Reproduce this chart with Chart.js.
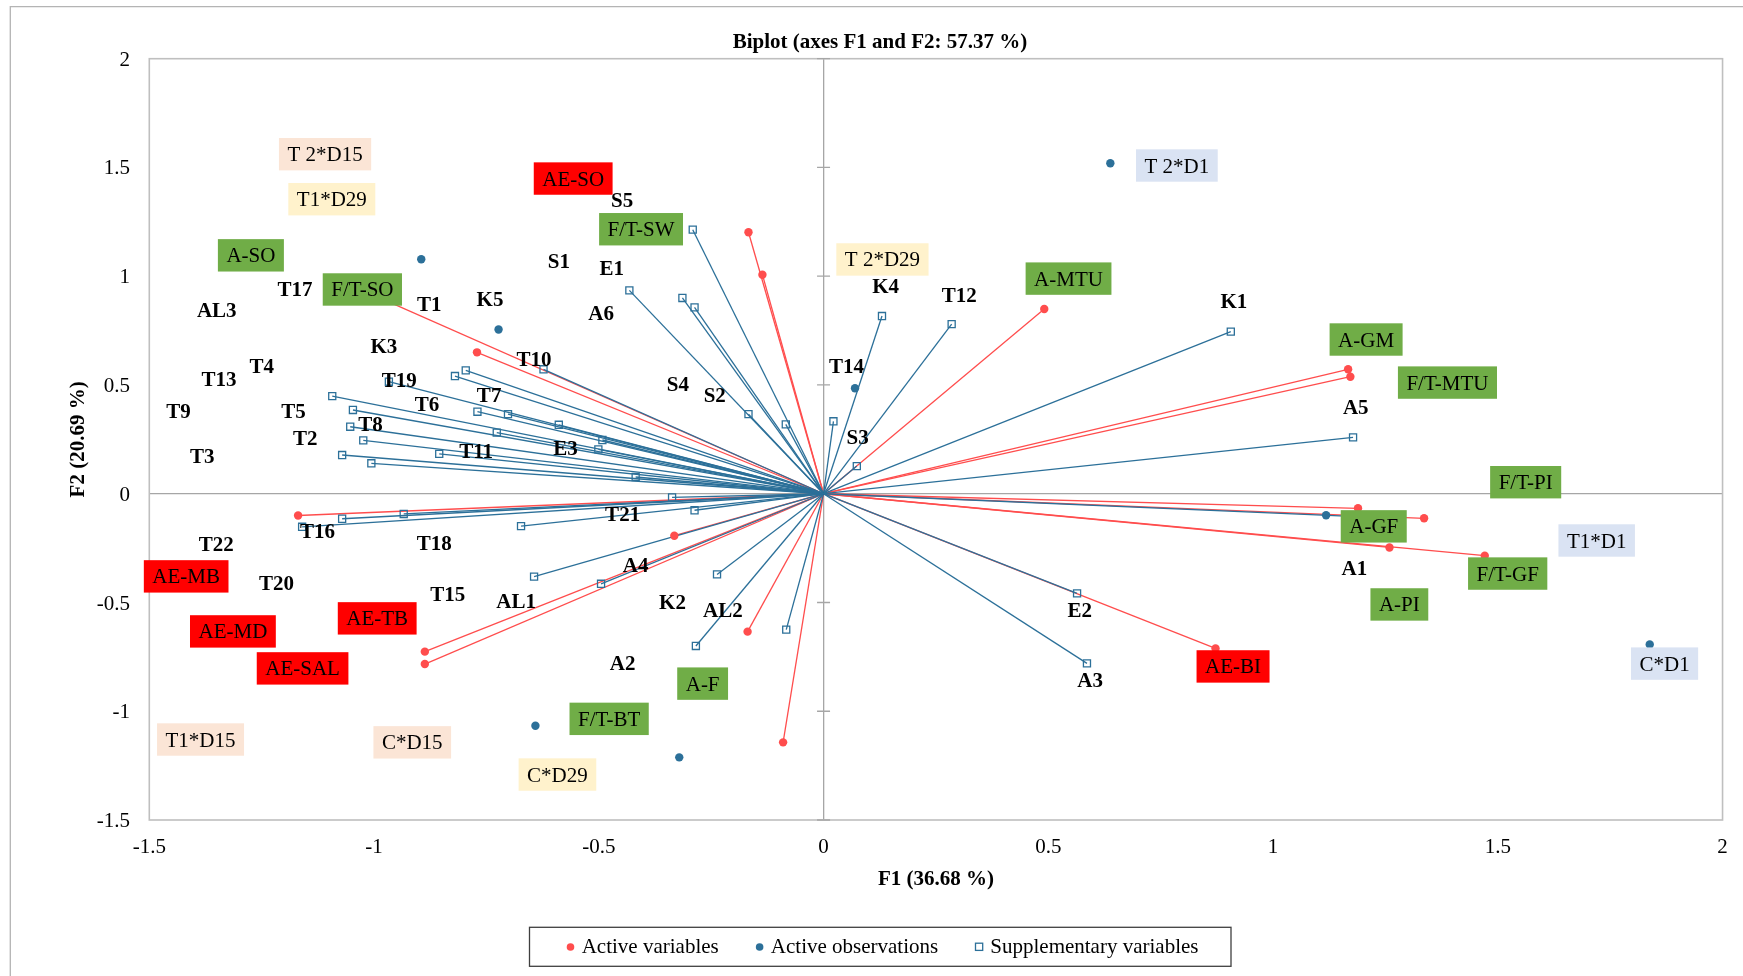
<!DOCTYPE html>
<html>
<head>
<meta charset="utf-8">
<script src="https://cdn.jsdelivr.net/npm/chart.js@4.4.1/dist/chart.umd.min.js"></script>
<style>
html,body{margin:0;padding:0;background:#fff;}
#wrap{width:1743px;height:976px;position:relative;}
</style>
</head>
<body>
<div id="wrap"><canvas id="c"></canvas></div>
<script>
// ---------- DATA ----------
const chartTitle = 'Biplot (axes F1 and F2: 57.37 %)';
const xAxisTitle = 'F1 (36.68 %)';
const yAxisTitle = 'F2 (20.69 %)';
const xTicks = [-1.5, -1, -0.5, 0, 0.5, 1, 1.5, 2];
const yTicks = [-1.5, -1, -0.5, 0, 0.5, 1, 1.5, 2];
const seriesNames = ['Active variables', 'Active observations', 'Supplementary variables'];

// Active variables (vectors, red)
const activeVarX = [-0.167, -0.136, -0.771, -1.000, 0.491, 1.167, 1.172, 1.189, 1.336, 1.259, 1.471, 0.872, -0.090, -0.169, -0.332, -0.887, -0.887, -1.169];
const activeVarY = [1.202, 1.007, 0.650, 0.912, 0.849, 0.572, 0.538, -0.067, -0.113, -0.247, -0.285, -0.711, -1.143, -0.634, -0.193, -0.726, -0.783, -0.100];

// Active observations (blue dots)
const obsX = [-0.895, -0.723, 0.638, 0.070, 1.118, 1.838, -0.641, -0.321];
const obsY = [1.078, 0.755, 1.519, 0.485, -0.099, -0.693, -1.067, -1.212];

// Supplementary variables (vectors, blue squares)
const suppX = [-0.623, -0.796, -0.820, -0.967, -1.093, -1.047, -1.053, -1.024, -1.071, -1.006, -0.855, -0.770, -0.702, -0.727, -0.589, -0.492, -0.501, -0.418,
               -0.291, -0.432, -0.314, -0.287, -0.167, -0.084, 0.022, 0.130, 0.285, 0.074,
               0.906, 1.178, 1.200, 0.564, 0.586,
               -1.160, -1.071, -0.934, -0.673, -0.337, -0.287, -0.644, -0.495, -0.237, -0.284, -0.083];
const suppY = [0.572, 0.567, 0.541, 0.515, 0.449, 0.385, 0.308, 0.245, 0.178, 0.140, 0.183, 0.377, 0.366, 0.281, 0.317, 0.247, 0.204, 0.077,
               1.214, 0.935, 0.900, 0.857, 0.366, 0.319, 0.333, 0.817, 0.780, 0.127,
               0.745, 0.259, -0.106, -0.458, -0.780,
               -0.152, -0.115, -0.093, -0.149, -0.017, -0.076, -0.381, -0.414, -0.371, -0.700, -0.625];

// Point labels (data coordinates) and their kind:
// b = bold plain, g = green box, r = red box, p = peach box, y = light yellow box, l = light blue box
const labelText = ['T 2*D15','T1*D29','AE-SO','A-SO','F/T-SO','S1','T17','AL3','T1','K5','K3','T10','T4','T13','T19','T9','T5','T8','T2','T3','T11','E3','T6','T7',
  'T16','T18','T22','AE-MB','T20','T15','AL1','AE-TB','AE-MD','AE-SAL','T1*D15','C*D15','C*D29','F/T-BT',
  'S5','F/T-SW','E1','A6','S4','S2','T 2*D29','K4','T12','T14','S3','A-MTU',
  'T21','A4','K2','AL2','A2','A-F',
  'T 2*D1','K1','A-GM','F/T-MTU','A5','F/T-PI','A-GF','T1*D1','A1','F/T-GF','A-PI','E2','A3','AE-BI','C*D1'];
const labelX = [-1.109,-1.094,-0.557,-1.274,-1.026,-0.589,-1.176,-1.350,-0.877,-0.742,-0.978,-0.644,-1.250,-1.345,-0.944,-1.435,-1.179,-1.008,-1.153,-1.382,-0.773,-0.574,-0.882,-0.744,
  -1.126,-0.866,-1.351,-1.418,-1.217,-0.836,-0.684,-0.993,-1.314,-1.159,-1.386,-0.915,-0.592,-0.477,
  -0.448,-0.406,-0.471,-0.495,-0.324,-0.242,0.131,0.138,0.302,0.051,0.076,0.545,
  -0.447,-0.418,-0.336,-0.224,-0.447,-0.269,
  0.786,0.913,1.207,1.388,1.184,1.562,1.224,1.720,1.181,1.522,1.281,0.570,0.593,0.911,1.871];
const labelY = [1.561,1.354,1.449,1.096,0.939,1.067,0.937,0.840,0.871,0.891,0.676,0.619,0.584,0.527,0.521,0.377,0.377,0.316,0.255,0.170,0.193,0.206,0.408,0.449,
  -0.175,-0.228,-0.233,-0.380,-0.412,-0.464,-0.497,-0.573,-0.633,-0.803,-1.130,-1.143,-1.291,-1.035,
  1.350,1.216,1.033,0.829,0.500,0.451,1.077,0.952,0.912,0.584,0.257,0.989,
  -0.098,-0.332,-0.499,-0.535,-0.783,-0.873,
  1.509,0.883,0.709,0.511,0.397,0.053,-0.150,-0.215,-0.346,-0.367,-0.509,-0.539,-0.860,-0.794,-0.781];
const labelKind = ['p','y','r','g','g','b','b','b','b','b','b','b','b','b','b','b','b','b','b','b','b','b','b','b',
  'b','b','b','r','b','b','b','r','r','r','p','p','y','g',
  'b','g','b','b','b','b','y','b','b','b','b','g',
  'b','b','b','b','b','g',
  'l','b','g','g','b','g','g','l','b','g','g','b','b','r','l'];

// ---------- STYLE ----------
const RED = '#FF4D4D';
const BLUE = '#2C7099';
const FONT = "'Liberation Serif', 'Times New Roman', serif";
const boxFill = {g:'#70AD47', r:'#FF0000', p:'#FBE5D6', y:'#FFF2CC', l:'#DAE3F3'};

Chart.defaults.font.family = FONT;
Chart.defaults.color = '#000';

const pts = (xs, ys) => xs.map((v, i) => ({x: v, y: ys[i]}));

const datasets = [
  {label: seriesNames[1], data: pts(obsX, obsY), pointStyle: 'circle', pointRadius: 4.2,
   pointBackgroundColor: BLUE, pointBorderColor: BLUE, pointBorderWidth: 0, showLine: false},
  {label: seriesNames[0], data: pts(activeVarX, activeVarY), pointStyle: 'circle', pointRadius: 4.2,
   pointBackgroundColor: RED, pointBorderColor: RED, pointBorderWidth: 0, showLine: false},
  {label: seriesNames[2], data: pts(suppX, suppY), pointStyle: 'rect', pointRadius: 5,
   pointBackgroundColor: 'rgba(255,255,255,0)', pointBorderColor: BLUE, pointBorderWidth: 1.3, showLine: false}
];
// supplementary vectors (blue lines from origin)
suppX.forEach((v, i) => datasets.push({label: '_s' + i, data: [{x: 0, y: 0}, {x: v, y: suppY[i]}],
  showLine: true, borderColor: BLUE, borderWidth: 1.3, pointRadius: 0}));
// active vectors (red lines from origin)
activeVarX.forEach((v, i) => datasets.push({label: '_a' + i, data: [{x: 0, y: 0}, {x: v, y: activeVarY[i]}],
  showLine: true, borderColor: RED, borderWidth: 1.3, pointRadius: 0}));

const decor = {
  id: 'decor',
  beforeDraw(chart) {
    const ctx = chart.ctx;
    ctx.save();
    ctx.fillStyle = '#fff';
    ctx.fillRect(0, 0, chart.width, chart.height);
    ctx.strokeStyle = '#B4B4B4';
    ctx.lineWidth = 1.3;
    ctx.beginPath();
    ctx.moveTo(10.3, chart.height + 2);
    ctx.lineTo(10.3, 6.7);
    ctx.lineTo(chart.width + 2, 6.7);
    ctx.stroke();
    ctx.restore();
  },
  beforeDatasetsDraw(chart) {
    const {ctx, chartArea: a, scales: {x, y}} = chart;
    ctx.save();
    ctx.strokeStyle = '#BFBFBF';
    ctx.lineWidth = 1.6;
    ctx.strokeRect(a.left, a.top, a.right - a.left, a.bottom - a.top);
    const x0 = x.getPixelForValue(0);
    ctx.strokeStyle = '#A6A6A6';
    ctx.lineWidth = 1.3;
    ctx.beginPath();
    yTicks.forEach(v => {
      const py = y.getPixelForValue(v);
      ctx.moveTo(x0 - 6.5, py);
      ctx.lineTo(x0 + 6.5, py);
    });
    ctx.stroke();
    ctx.restore();
  },
  afterDatasetsDraw(chart) {
    const {ctx, scales: {x, y}} = chart;
    ctx.save();
    ctx.textAlign = 'center';
    ctx.textBaseline = 'middle';
    labelText.forEach((t, i) => {
      const px = x.getPixelForValue(labelX[i]);
      const py = y.getPixelForValue(labelY[i]);
      const k = labelKind[i];
      if (k === 'b') {
        ctx.font = 'bold 21px ' + FONT;
        ctx.fillStyle = '#000';
        ctx.fillText(t, px, py + 1);
      } else {
        ctx.font = '21px ' + FONT;
        const w = ctx.measureText(t).width + 17;
        const h = 32.4;
        ctx.fillStyle = boxFill[k];
        ctx.fillRect(px - w / 2, py - h / 2, w, h);
        ctx.fillStyle = '#000';
        ctx.fillText(t, px, py + 1.5);
      }
    });
    ctx.restore();
  },
  afterDraw(chart) {
    const ctx = chart.ctx;
    ctx.save();
    // title
    ctx.font = 'bold 21px ' + FONT;
    ctx.fillStyle = '#000';
    ctx.textAlign = 'center';
    ctx.textBaseline = 'middle';
    ctx.fillText(chartTitle, 880, 42.2);
    // legend
    ctx.strokeStyle = '#3F3F3F';
    ctx.lineWidth = 1.3;
    ctx.strokeRect(529.5, 927.3, 701.5, 39);
    ctx.font = '21px ' + FONT;
    ctx.textAlign = 'left';
    const order = [1, 0, 2];
    let cx = 566.9;
    const cy = 947.5;
    order.forEach(di => {
      const ds = chart.data.datasets[di];
      const mx = cx + 3.6;
      if (ds.pointStyle === 'rect') {
        ctx.strokeStyle = ds.pointBorderColor;
        ctx.lineWidth = 1.3;
        ctx.strokeRect(mx - 3.6, cy - 4.3, 7.2, 7.2);
      } else {
        ctx.fillStyle = ds.pointBackgroundColor;
        ctx.beginPath();
        ctx.arc(mx, cy - 0.5, 3.8, 0, Math.PI * 2);
        ctx.fill();
      }
      ctx.fillStyle = '#000';
      const tx = cx + 14.8;
      ctx.fillText(ds.label, tx, cy);
      cx = tx + ctx.measureText(ds.label).width + 37.3;
    });
    ctx.restore();
  }
};

new Chart(document.getElementById('c'), {
  type: 'scatter',
  data: {datasets},
  options: {
    responsive: true,
    maintainAspectRatio: false,
    animation: false,
    events: [],
    layout: {padding: {left: 0, right: 18.7, top: 58.7, bottom: 0}},
    plugins: {legend: {display: false}, tooltip: {enabled: false}, title: {display: false}},
    scales: {
      x: {
        type: 'linear', min: xTicks[0], max: xTicks[xTicks.length - 1],
        afterBuildTicks: s => { s.ticks = xTicks.map(v => ({value: v})); },
        afterFit: s => { s.height = 156; },
        ticks: {padding: 15.2, font: {size: 21}, color: '#000', callback: v => String(v), maxRotation: 0},
        grid: {drawTicks: false, color: c => (c.tick && c.tick.value === 0) ? '#A6A6A6' : 'rgba(0,0,0,0)', lineWidth: 1.3},
        border: {display: false},
        title: {display: true, text: xAxisTitle, font: {size: 21, weight: 'bold'}, color: '#000', padding: {top: 0, bottom: 83.4}}
      },
      y: {
        type: 'linear', min: yTicks[0], max: yTicks[yTicks.length - 1],
        afterBuildTicks: s => { s.ticks = yTicks.map(v => ({value: v})); },
        afterFit: s => { s.width = 149.3; },
        ticks: {padding: 19.3, font: {size: 21}, color: '#000', callback: v => String(v), labelOffset: 1.5},
        grid: {drawTicks: false, color: c => (c.tick && c.tick.value === 0) ? '#A6A6A6' : 'rgba(0,0,0,0)', lineWidth: 1.3},
        border: {display: false},
        title: {display: true, text: yAxisTitle, font: {size: 21, weight: 'bold'}, color: '#000', padding: {top: 65.5, bottom: 0}}
      }
    }
  },
  plugins: [decor]
});
</script>
</body>
</html>
